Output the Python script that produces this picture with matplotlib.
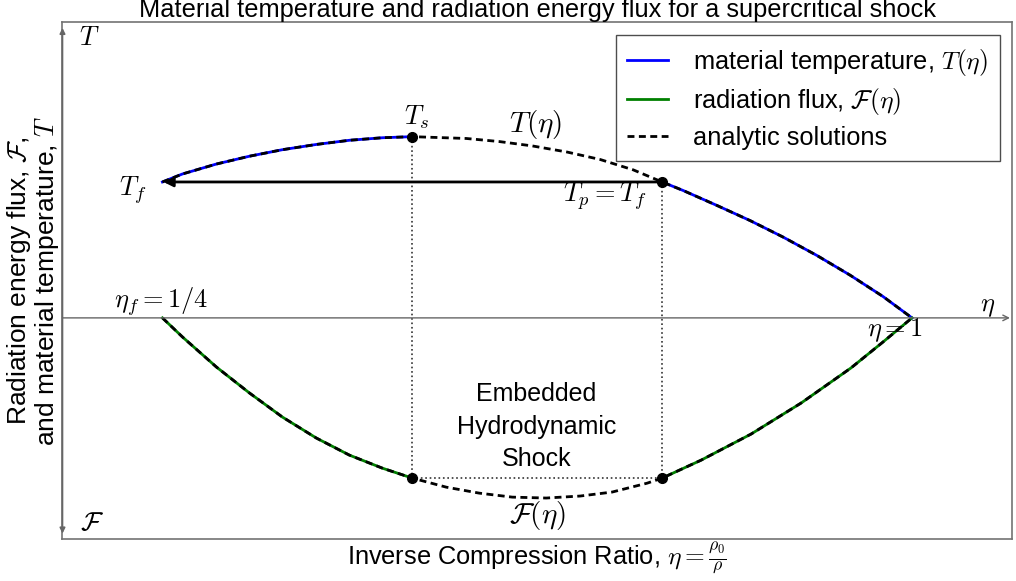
import numpy as np
import matplotlib
matplotlib.use('Agg')
import matplotlib.pyplot as plt

plt.rcParams['font.family'] = ['Liberation Sans', 'DejaVu Sans']
plt.rcParams['mathtext.fontset'] = 'cm'

# material temperature (eta, T)
eta_T_left = [0.25, 0.270, 0.304, 0.337, 0.370, 0.404, 0.437, 0.470, 0.500]
T_left = [0.75, 0.794, 0.849, 0.892, 0.928, 0.957, 0.980, 0.994, 1.000]
eta_T_mid = [0.5, 0.554, 0.587, 0.620, 0.655, 0.688, 0.721, 0.75]
T_mid = [1.0, 0.990, 0.973, 0.949, 0.915, 0.874, 0.817, 0.75]
eta_T_right = [0.75, 0.771, 0.805, 0.838, 0.871, 0.905, 0.938, 0.971, 1.0]
T_right = [0.75, 0.703, 0.620, 0.537, 0.446, 0.344, 0.236, 0.118, 0.0]

# radiation flux (eta, F)
eta_F_left = [0.25, 0.270, 0.304, 0.337, 0.370, 0.404, 0.437, 0.470, 0.5]
F_left = [0.0, -0.105, -0.271, -0.414, -0.547, -0.663, -0.757, -0.829, -0.884]
eta_F_mid = [0.5, 0.534, 0.567, 0.6, 0.634, 0.668, 0.7, 0.735, 0.75]
F_mid = [-0.884, -0.934, -0.967, -0.989, -0.994, -0.983, -0.961, -0.912, -0.884]
eta_F_right = [0.75, 0.789, 0.839, 0.889, 0.939, 0.971, 1.0]
F_right = [-0.884, -0.785, -0.641, -0.470, -0.276, -0.133, 0.0]

eta_s, eta_p = 0.5, 0.75
T_s, T_f, F_s = 1.0, 0.75, -0.884
xmin, xmax = 0.15, 1.10
ymin, ymax = -1.22, 1.63

fig = plt.figure(figsize=(10.16, 5.81), dpi=100)
ax = fig.add_axes([0.0615, 0.0723, 0.9345, 0.889])
ax.set_xlim(xmin, xmax)
ax.set_ylim(ymin, ymax)
ax.set_xticks([])
ax.set_yticks([])
for s in ax.spines.values():
    s.set_color('0.45')
    s.set_linewidth(1.2)

gray = '0.4'
# axes arrows
ax.annotate('', xy=(1.098, 0), xytext=(xmin, 0),
            arrowprops=dict(arrowstyle='->', color=gray, lw=1, shrinkA=0, shrinkB=0))
ax.annotate('', xy=(xmin, 1.60), xytext=(xmin, -1.19),
            arrowprops=dict(arrowstyle='<|-|>', color=gray, lw=1.2, shrinkA=0, shrinkB=0,
                            mutation_scale=8))

dash = (0, (2.5, 1.6))
eta_T = eta_T_left + eta_T_mid[1:] + eta_T_right[1:]
T_all = T_left + T_mid[1:] + T_right[1:]
eta_F = eta_F_left + eta_F_mid[1:] + eta_F_right[1:]
F_all = F_left + F_mid[1:] + F_right[1:]

kw = dict(lw=2, solid_joinstyle='round', dash_joinstyle='round')
ax.plot(eta_T_left, T_left, color='blue', label=r'material temperature, $T(\eta)$', **kw)
ax.plot(eta_T_right, T_right, color='blue', **kw)
ax.plot(eta_F_left, F_left, color='green', label=r'radiation flux, $\mathcal{F}(\eta)$', **kw)
ax.plot(eta_F_right, F_right, color='green', **kw)
ax.plot(eta_T, T_all, color='black', linestyle=dash, label='analytic solutions', **kw)
ax.plot(eta_F, F_all, color='black', linestyle=dash, **kw)

# dotted shock box
ax.plot([eta_s, eta_s], [T_s, F_s], color='0.2', lw=1.2, linestyle=':')
ax.plot([eta_p, eta_p], [T_f, F_s], color='0.2', lw=1.2, linestyle=':')
ax.plot([eta_s, eta_p], [F_s, F_s], color='0.2', lw=1.2, linestyle=':')
ax.plot([eta_s, eta_p, eta_s, eta_p], [T_s, T_f, F_s, F_s], 'o', color='black', ms=7)

# arrow from T_p back to T_f
ax.annotate('', xy=(0.251, T_f), xytext=(eta_p, T_f),
            arrowprops=dict(arrowstyle='-|>', color='black', lw=2, shrinkA=0, shrinkB=0,
                            mutation_scale=14))

fs = 19
ax.text(0.177, 1.547, r'$T$', fontsize=fs, ha='center', va='center')
ax.text(0.18, -1.133, r'$\mathcal{F}$', fontsize=fs, ha='center', va='center')
ax.text(1.076, 0.06, r'$\eta$', fontsize=fs, ha='center', va='center')
ax.text(0.249, 0.09, r'$\eta_f = 1/4$', fontsize=fs, ha='center', va='center')
ax.text(0.983, -0.066, r'$\eta = 1$', fontsize=fs, ha='center', va='center')
ax.text(0.504, 1.105, r'$T_s$', fontsize=fs, ha='center', va='center')
ax.text(0.623, 1.066, r'$T(\eta)$', fontsize=21, ha='center', va='center')
ax.text(0.22, 0.707, r'$T_f$', fontsize=fs, ha='center', va='center')
ax.text(0.693, 0.674, r'$T_p = T_f$', fontsize=fs, ha='center', va='center')
ax.text(0.625, -1.088, r'$\mathcal{F}(\eta)$', fontsize=21, ha='center', va='center')
ax.text(0.624, -0.60, 'Embedded\nHydrodynamic\nShock', fontsize=18, ha='center', va='center',
        linespacing=1.45)

ax.legend(loc='upper right', bbox_to_anchor=(0.987, 0.975), borderaxespad=0, fontsize=18.3,
          fancybox=False, framealpha=1, edgecolor='0.3', handlelength=1.6,
          handletextpad=1.0, borderpad=0.45, labelspacing=0.33)

ax.set_title('Material temperature and radiation energy flux for a supercritical shock',
             fontsize=18.3, pad=1)
ax.set_xlabel(r'Inverse Compression Ratio, $\eta = \frac{\rho_0}{\rho}$', fontsize=18.3, labelpad=1)
ax.set_ylabel('Radiation energy flux, $\\mathcal{F}$,\nand material temperature, $T$',
              fontsize=19, labelpad=1, linespacing=1.0)

fig.savefig('out.png', dpi=100)
